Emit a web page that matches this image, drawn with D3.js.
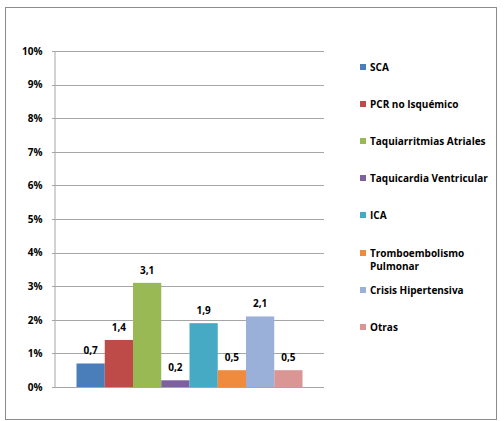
<!DOCTYPE html>
<html>
<head>
<meta charset="utf-8">
<script src="https://cdn.jsdelivr.net/npm/d3@7"></script>
<style>
  body { margin: 0; background: #fff; }
  svg { display: block; font-family: "Open Sans", "Liberation Sans", sans-serif; font-weight: bold; }
</style>
</head>
<body>
<svg id="chart" width="504" height="421"></svg>
<script>
// chart data
const categories = ["SCA", "PCR no Isquémico", "Taquiarritmias Atriales", "Taquicardia Ventricular",
  "ICA", "Tromboembolismo Pulmonar", "Crisis Hipertensiva", "Otras"]
const values = [0.7, 1.4, 3.1, 0.2, 1.9, 0.5, 2.1, 0.5]
const labels = ["0,7", "1,4", "3,1", "0,2", "1,9", "0,5", "2,1", "0,5"]
const colors = ["#4a7ebb", "#be4b48", "#98b954", "#7d60a0", "#46aac5", "#f08a3c", "#9bb0d9", "#d99694"]
const yTicks = [0, 1, 2, 3, 4, 5, 6, 7, 8, 9, 10]
// legend lines (Tromboembolismo wraps onto two lines)
const legendLines = [["SCA"], ["PCR no Isquémico"], ["Taquiarritmias Atriales"], ["Taquicardia Ventricular"],
  ["ICA"], ["Tromboembolismo", "Pulmonar"], ["Crisis Hipertensiva"], ["Otras"]]

const svg = d3.select("#chart")

// outer frame
svg.append("rect")
  .attr("x", 5.5).attr("y", 7.5).attr("width", 491).attr("height", 412)
  .attr("fill", "#fff").attr("stroke", "#8c8c8c").attr("stroke-width", 1)

const y = d3.scaleLinear().domain([0, 10]).range([387, 51])
const x = d3.scaleBand().domain(categories).range([76.5, 302.5]).padding(0)

// gridlines
svg.append("g")
  .selectAll("line")
  .data(yTicks.slice(1))
  .join("line")
  .attr("x1", 52).attr("x2", 324)
  .attr("y1", d => Math.round(y(d)) + 0.5).attr("y2", d => Math.round(y(d)) + 0.5)
  .attr("stroke", "#a6a6a6")

// y axis
const yAxis = d3.axisLeft(y).tickValues(yTicks).tickFormat(d => d + "%").tickSize(0).tickPadding(12)
const ga = svg.append("g").attr("transform", "translate(54.5,0)").call(yAxis)
ga.select(".domain").attr("stroke", "#a6a6a6")
ga.selectAll("text").attr("font-size", 10).attr("fill", "#000").attr("font-family", "Open Sans, sans-serif").attr("font-weight", "bold")
ga.selectAll(".tick line").remove()

// bars
svg.append("g")
  .selectAll("rect")
  .data(values)
  .join("rect")
  .attr("x", (d, i) => x(categories[i]))
  .attr("width", x.bandwidth())
  .attr("y", d => y(d))
  .attr("height", d => y(0) - y(d))
  .attr("fill", (d, i) => colors[i])

// x baseline
svg.append("line")
  .attr("x1", 52).attr("x2", 324).attr("y1", 387.5).attr("y2", 387.5)
  .attr("stroke", "#a6a6a6")

// value labels
svg.append("g")
  .selectAll("text")
  .data(values)
  .join("text")
  .attr("x", (d, i) => x(categories[i]) + x.bandwidth() / 2)
  .attr("y", d => y(d) - 9)
  .attr("text-anchor", "middle")
  .attr("font-size", 10)
  .text((d, i) => labels[i])

// legend
const legendY = [67, 104, 141, 178, 215, 253, 290, 327]
const lg = svg.append("g")
legendLines.forEach((lines, i) => {
  lg.append("rect")
    .attr("x", 360).attr("y", legendY[i] - 3).attr("width", 6).attr("height", 6)
    .attr("fill", colors[i])
  lines.forEach((t, j) => {
    lg.append("text")
      .attr("x", 370).attr("y", legendY[i] + 3.5 + j * 13.5)
      .attr("font-size", 10)
      .text(t)
  })
})
</script>
</body>
</html>
